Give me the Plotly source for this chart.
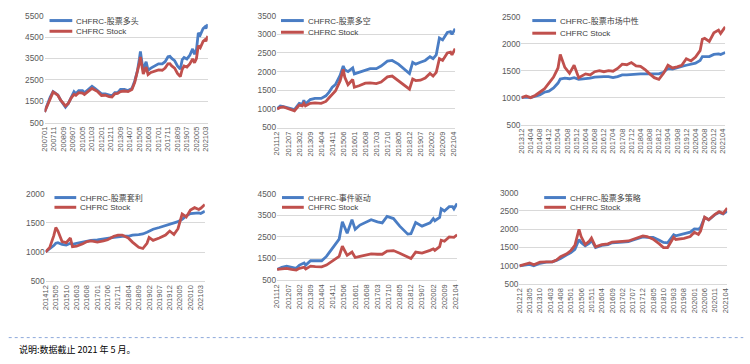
import plotly.graph_objects as go

FONT = "Liberation Sans, Arial, Noto Sans CJK SC, sans-serif"
BLUE = "#4A7DC4"
RED = "#C0504D"
STOCK_NAME = "CHFRC Stock"

# ---------------- Panel 1: 股票多头 ----------------
p1_names = "CHFRC-股票多头"
p1_dates = ["2007-01", "2007-04", "2007-07", "2007-10", "2007-12", "2008-03", "2008-06", "2008-09", "2008-11",
            "2009-02", "2009-05", "2009-08", "2009-10", "2010-01", "2010-05", "2010-07", "2010-11", "2011-03",
            "2011-06", "2011-09", "2012-01", "2012-05", "2012-09", "2012-12", "2013-03", "2013-06", "2013-09",
            "2014-01", "2014-05", "2014-09", "2014-12", "2015-03", "2015-05", "2015-06", "2015-08", "2015-09",
            "2015-12", "2016-02", "2016-05", "2016-09", "2017-01", "2017-05", "2017-08", "2017-11", "2018-01",
            "2018-03", "2018-06", "2018-09", "2018-12", "2019-02", "2019-04", "2019-07", "2019-10", "2020-01",
            "2020-03", "2020-05", "2020-07", "2020-09", "2020-10", "2020-12", "2021-02", "2021-03", "2021-05"]
p1_fund = [1000, 1350, 1700, 1950, 1900, 1800, 1550, 1350, 1230,
           1400, 1700, 1950, 1850, 2000, 2000, 1900, 2050, 2200,
           2100, 2000, 1850, 1850, 1800, 1750, 1900, 1900, 2050,
           2050, 2000, 2100, 2450, 2950, 3500, 3830, 3200, 3000,
           3350, 2950, 3050, 3150, 3250, 3250, 3350, 3580, 3600,
           3500, 3400, 3150, 3000, 3450, 3550, 3480, 3650, 3950,
           3700, 3900, 4700, 4600, 4700, 4900, 4980, 4900, 5100]
p1_stock = [1000, 1330, 1650, 1930, 1880, 1780, 1550, 1380, 1280,
            1400, 1650, 1820, 1780, 1900, 1880, 1820, 1950, 2100,
            2030, 1950, 1770, 1780, 1720, 1700, 1850, 1870, 1950,
            1980, 1950, 2050, 2380, 2850, 3300, 3570, 3000, 2780,
            3100, 2750, 2850, 2900, 2970, 2950, 3050, 3250, 3260,
            3150, 3050, 2800, 2650, 3000, 3150, 3100, 3250, 3480,
            3300, 3500, 4100, 4000, 4100, 4300, 4380, 4300, 4550]
p1_ticks = ["200701", "200711", "200809", "200907", "201005", "201103", "201201", "201211", "201309",
            "201407", "201505", "201603", "201701", "201711", "201809", "201907", "202005", "202103"]

# ---------------- Panel 2: 股票多空 ----------------
p2_names = "CHFRC-股票多空"
p2_dates = ["2011-12", "2012-02", "2012-04", "2012-07", "2012-09", "2012-11", "2013-02", "2013-04", "2013-05",
            "2013-06", "2013-09", "2013-12", "2014-04", "2014-07", "2014-09", "2014-11", "2015-01", "2015-04",
            "2015-06", "2015-07", "2015-09", "2015-12", "2016-01", "2016-04", "2016-08", "2016-11", "2017-03",
            "2017-06", "2017-10", "2018-01", "2018-05", "2018-08", "2018-12", "2019-02", "2019-04", "2019-07",
            "2019-10", "2020-01", "2020-03", "2020-05", "2020-07", "2020-09", "2020-12", "2021-02", "2021-03",
            "2021-05"]
p2_fund = [1000, 1080, 1060, 1030, 1000, 980, 1150, 1120, 1230,
           1130, 1250, 1280, 1280, 1350, 1450, 1580, 1650, 1900,
           2150, 2050, 2000, 2100, 1940, 1980, 2050, 2080, 2080,
           2150, 2280, 2300, 2200, 2100, 1950, 2250, 2200, 2250,
           2300, 2400, 2350, 2450, 2900, 2850, 3050, 3070, 3000,
           3150]
p2_stock = [1000, 1040, 1050, 1010, 980, 950, 1100, 1080, 1150,
            1080, 1150, 1160, 1150, 1200, 1300, 1400, 1480, 1750,
            2060, 1850, 1650, 1790, 1580, 1620, 1690, 1700, 1680,
            1720, 1860, 1880, 1760, 1650, 1530, 1800, 1760, 1770,
            1830, 1950, 1880, 1980, 2350, 2300, 2500, 2520, 2450,
            2620]
p2_ticks = ["201112", "201207", "201302", "201309", "201404", "201411", "201506", "201601", "201608",
            "201703", "201710", "201805", "201812", "201907", "202002", "202009", "202104"]

# ---------------- Panel 3: 股票市场中性 ----------------
p3_names = "CHFRC-股票市场中性"
p3_dates = ["2013-12", "2014-02", "2014-04", "2014-06", "2014-08", "2014-10", "2014-12", "2015-02", "2015-04",
            "2015-05", "2015-07", "2015-09", "2015-11", "2016-01", "2016-04", "2016-06", "2016-08", "2016-10",
            "2016-12", "2017-02", "2017-04", "2017-06", "2017-08", "2017-10", "2017-12", "2018-02", "2018-04",
            "2018-06", "2018-08", "2018-10", "2018-12", "2019-02", "2019-04", "2019-06", "2019-08", "2019-10",
            "2019-12", "2020-02", "2020-04", "2020-06", "2020-07", "2020-08", "2020-10", "2020-12", "2021-02",
            "2021-03", "2021-05"]
p3_fund = [1000, 1010, 1000, 1020, 1050, 1100, 1120, 1180, 1270,
           1345, 1360, 1350, 1370, 1340, 1350, 1360, 1380, 1390,
           1390, 1390, 1370, 1390, 1420, 1420, 1430, 1440, 1440,
           1440, 1440, 1440, 1440, 1470, 1540, 1530, 1560, 1580,
           1600, 1620, 1640, 1690, 1760, 1760, 1760, 1800, 1810,
           1800, 1835]
p3_stock = [1000, 1030, 1000, 1040, 1100, 1160, 1270, 1380, 1550,
            1800, 1560, 1450, 1600, 1370, 1440, 1420, 1480, 1500,
            1480, 1500, 1490, 1540, 1620, 1610, 1650, 1590, 1580,
            1520, 1440, 1370, 1340, 1450, 1600, 1550, 1570, 1600,
            1720, 1680, 1750, 1870, 2080, 2100, 2040, 2200, 2250,
            2190, 2310]
p3_ticks = ["201312", "201404", "201408", "201412", "201504", "201508", "201512", "201604", "201608",
            "201612", "201704", "201708", "201712", "201804", "201808", "201812", "201904", "201908",
            "201912", "202004", "202008", "202012", "202104"]

# ---------------- Panel 4: 股票套利 ----------------
p4_names = "CHFRC-股票套利"
p4_dates = ["2014-12", "2015-02", "2015-04", "2015-05", "2015-06", "2015-08", "2015-10", "2015-12", "2016-01",
            "2016-03", "2016-06", "2016-08", "2016-10", "2017-01", "2017-04", "2017-06", "2017-09", "2017-11",
            "2018-01", "2018-04", "2018-06", "2018-09", "2018-11", "2019-01", "2019-02", "2019-04", "2019-07",
            "2019-10", "2019-12", "2020-02", "2020-04", "2020-06", "2020-08", "2020-10", "2020-12", "2021-02",
            "2021-03", "2021-05"]
p4_fund = [1000, 1050, 1110, 1150, 1160, 1130, 1120, 1150, 1130,
           1150, 1170, 1190, 1200, 1210, 1220, 1230, 1250, 1260,
           1270, 1270, 1290, 1300, 1310, 1340, 1360, 1390, 1420,
           1450, 1470, 1490, 1520, 1560, 1620, 1660, 1670, 1670,
           1660, 1700]
p4_stock = [1000, 1080, 1280, 1420, 1360, 1180, 1160, 1240, 1090,
            1100, 1140, 1180, 1190, 1170, 1190, 1210, 1270, 1290,
            1290, 1240, 1170, 1080, 1060, 1150, 1250, 1200, 1240,
            1290, 1360, 1300, 1400, 1650, 1600, 1720, 1760, 1730,
            1750, 1815]
p4_ticks = ["201412", "201505", "201510", "201603", "201608", "201701", "201706", "201711", "201804",
            "201809", "201902", "201907", "201912", "202005", "202010", "202103"]

# ---------------- Panel 5: 事件驱动 ----------------
p5_names = "CHFRC-事件驱动"
p5_dates = ["2011-12", "2012-03", "2012-06", "2012-09", "2012-12", "2013-02", "2013-05", "2013-06", "2013-09",
            "2013-12", "2014-04", "2014-07", "2014-10", "2015-01", "2015-03", "2015-05", "2015-08", "2015-11",
            "2016-01", "2016-04", "2016-08", "2016-11", "2017-03", "2017-06", "2017-09", "2018-01", "2018-05",
            "2018-10", "2018-12", "2019-03", "2019-07", "2019-12", "2020-02", "2020-03", "2020-06", "2020-07",
            "2020-09", "2020-12", "2021-02", "2021-03", "2021-05"]
p5_fund = [1000, 1100, 1150, 1100, 1050, 1200, 1300, 1200, 1400,
           1400, 1400, 1600, 1900, 2150, 2400, 3200, 2670, 3300,
           2850, 3050, 3200, 3300, 3200, 3150, 3450, 3350, 3000,
           2630, 2650, 3170, 3000, 3150, 3350, 3250, 3400, 3800,
           3700, 3900, 3900, 3800, 4050]
p5_stock = [1000, 1020, 1050, 1000, 970, 1050, 1100, 1020, 1150,
            1130, 1120, 1200, 1350, 1480, 1600, 2070, 1650, 1800,
            1550, 1600, 1680, 1720, 1700, 1700, 1850, 1870, 1750,
            1560, 1500, 1800, 1750, 1880, 1950, 1880, 2050, 2350,
            2300, 2500, 2500, 2480, 2600]
p5_ticks = ["201112", "201207", "201302", "201309", "201404", "201411", "201506", "201601", "201608",
            "201703", "201710", "201805", "201812", "201907", "202002", "202009", "202104"]

# ---------------- Panel 6: 股票多策略 ----------------
p6_names = "CHFRC-股票多策略"
p6_dates = ["2012-12", "2013-03", "2013-05", "2013-07", "2013-10", "2014-01", "2014-04", "2014-06", "2014-08",
            "2014-11", "2015-01", "2015-03", "2015-05", "2015-06", "2015-08", "2015-10", "2015-11", "2016-01",
            "2016-04", "2016-07", "2016-09", "2017-02", "2017-05", "2017-07", "2017-10", "2017-12", "2018-02",
            "2018-05", "2018-08", "2018-10", "2018-12", "2019-03", "2019-04", "2019-08", "2019-11", "2020-01",
            "2020-03", "2020-04", "2020-06", "2020-08", "2020-11", "2021-01", "2021-03", "2021-05"]
p6_fund = [1000, 1030, 1040, 1000, 1070, 1100, 1110, 1150, 1200,
           1300, 1360, 1450, 1720, 1640, 1550, 1620, 1700, 1500,
           1560, 1580, 1630, 1650, 1660, 1700, 1760, 1790, 1780,
           1780, 1700, 1640, 1630, 1850, 1820, 1880, 1920, 2010,
           2000, 2050, 2320, 2260, 2400, 2460, 2420, 2500]
p6_stock = [1000, 1050, 1080, 1030, 1100, 1110, 1110, 1160, 1250,
            1330, 1420, 1560, 2000, 1800, 1580, 1680, 1760, 1520,
            1580, 1600, 1650, 1670, 1680, 1720, 1790, 1820, 1800,
            1730, 1600, 1500, 1500, 1780, 1720, 1750, 1800, 1920,
            1860, 1950, 2330, 2260, 2410, 2480, 2430, 2580]
p6_ticks = ["201212", "201305", "201310", "201403", "201408", "201501", "201506", "201511", "201604",
            "201609", "201702", "201707", "201712", "201805", "201810", "201903", "201908", "202001",
            "202006", "202011", "202104"]

FOOTNOTE = "说明:数据截止 2021 年 5 月。"

W, H = 750, 364

# pixel boxes: (x0, x1, ytop, ybottom); y-range; dtick; legend (line x0, line x1, text x, row1 y, row2 y)
panels = [
    (p1_names, p1_dates, p1_fund, p1_stock, p1_ticks, (40, 205, 11, 121), (500, 5500), 1000, (45, 68, 70, 16, 27)),
    (p2_names, p2_dates, p2_fund, p2_stock, p2_ticks, (275, 455, 11, 126), (500, 3500), 500, (279, 302, 304, 16, 28)),
    (p3_names, p3_dates, p3_fund, p3_stock, p3_ticks, (522, 728, 12, 123), (500, 2500), 500, (533, 557, 559, 16, 29)),
    (p4_names, p4_dates, p4_fund, p4_stock, p4_ticks, (41, 202, 194, 284), (500, 2000), 500, (50, 72, 74, 198, 208)),
    (p5_names, p5_dates, p5_fund, p5_stock, p5_ticks, (275, 457, 194, 283), (500, 4500), 1000, (280, 302, 304, 198, 208)),
    (p6_names, p6_dates, p6_fund, p6_stock, p6_ticks, (520, 730, 193, 287), (500, 3000), 500, (545, 567, 569, 198, 208)),
]

fig = go.Figure()
layout = dict(
    width=W, height=H,
    margin=dict(l=0, r=0, t=0, b=0),
    paper_bgcolor="white", plot_bgcolor="white",
    font=dict(family=FONT, size=8, color="#595959"),
    showlegend=False,
)
shapes = []
annotations = []

for i, (fname, dates, fund, stock, ticks, box, yr, dt, lg) in enumerate(panels, start=1):
    sfx = "" if i == 1 else str(i)
    x0, x1, yt, yb = box
    fig.add_trace(go.Scatter(x=dates, y=fund, name=fname, mode="lines",
                             line=dict(color=BLUE, width=2.8), xaxis=f"x{sfx}", yaxis=f"y{sfx}"))
    fig.add_trace(go.Scatter(x=dates, y=stock, name=STOCK_NAME, mode="lines",
                             line=dict(color=RED, width=2.8), xaxis=f"x{sfx}", yaxis=f"y{sfx}"))
    tickvals = [f"{t[:4]}-{t[4:]}-01" for t in ticks]
    layout[f"xaxis{sfx}"] = dict(
        domain=[x0 / W, x1 / W], anchor=f"y{sfx}", type="date",
        range=[dates[0] + "-01", dates[-1] + "-01"],
        tickmode="array", tickvals=tickvals, ticktext=ticks, tickangle=-90,
        tickfont=dict(size=7.5, color="#595959"), showgrid=False,
        showline=True, linecolor="#D9D9D9", linewidth=1, ticks="", zeroline=False,
    )
    layout[f"yaxis{sfx}"] = dict(
        domain=[1 - yb / H, 1 - yt / H], anchor=f"x{sfx}",
        range=list(yr), dtick=dt, tick0=500, tickmode="linear",
        showgrid=True, gridcolor="#D9D9D9", gridwidth=1, zeroline=False,
        tickfont=dict(size=8.3, color="#595959"), ticks="", showline=False,
    )
    # legend (drawn as line samples + text labels)
    lx0, lx1, tx, r1, r2 = lg
    for (ry, col, label) in ((r1, BLUE, fname), (r2, RED, STOCK_NAME)):
        shapes.append(dict(type="line", xref="paper", yref="paper",
                           x0=lx0 / W, x1=lx1 / W, y0=1 - ry / H, y1=1 - ry / H,
                           line=dict(color=col, width=3)))
        annotations.append(dict(text=label, xref="paper", yref="paper", x=tx / W, y=1 - ry / H,
                                xanchor="left", yanchor="middle", showarrow=False,
                                font=dict(size=8, color="#404040", family=FONT)))

shapes.append(dict(type="line", xref="paper", yref="paper", x0=0.005, x1=0.995,
                   y0=1 - 342 / H, y1=1 - 342 / H,
                   line=dict(color="#8EA9DB", width=1, dash="dot")))
annotations.append(dict(text=FOOTNOTE, xref="paper", yref="paper", x=12 / W, y=1 - 354 / H,
                        xanchor="left", yanchor="middle", showarrow=False,
                        font=dict(size=9, color="#000000", family="Noto Sans CJK SC, sans-serif")))
layout["shapes"] = shapes
layout["annotations"] = annotations

fig.update_layout(**layout)

fig.write_html("out.html", config={"displayModeBar": False},
               post_script="document.body.style.margin='0';document.body.style.padding='0';")
